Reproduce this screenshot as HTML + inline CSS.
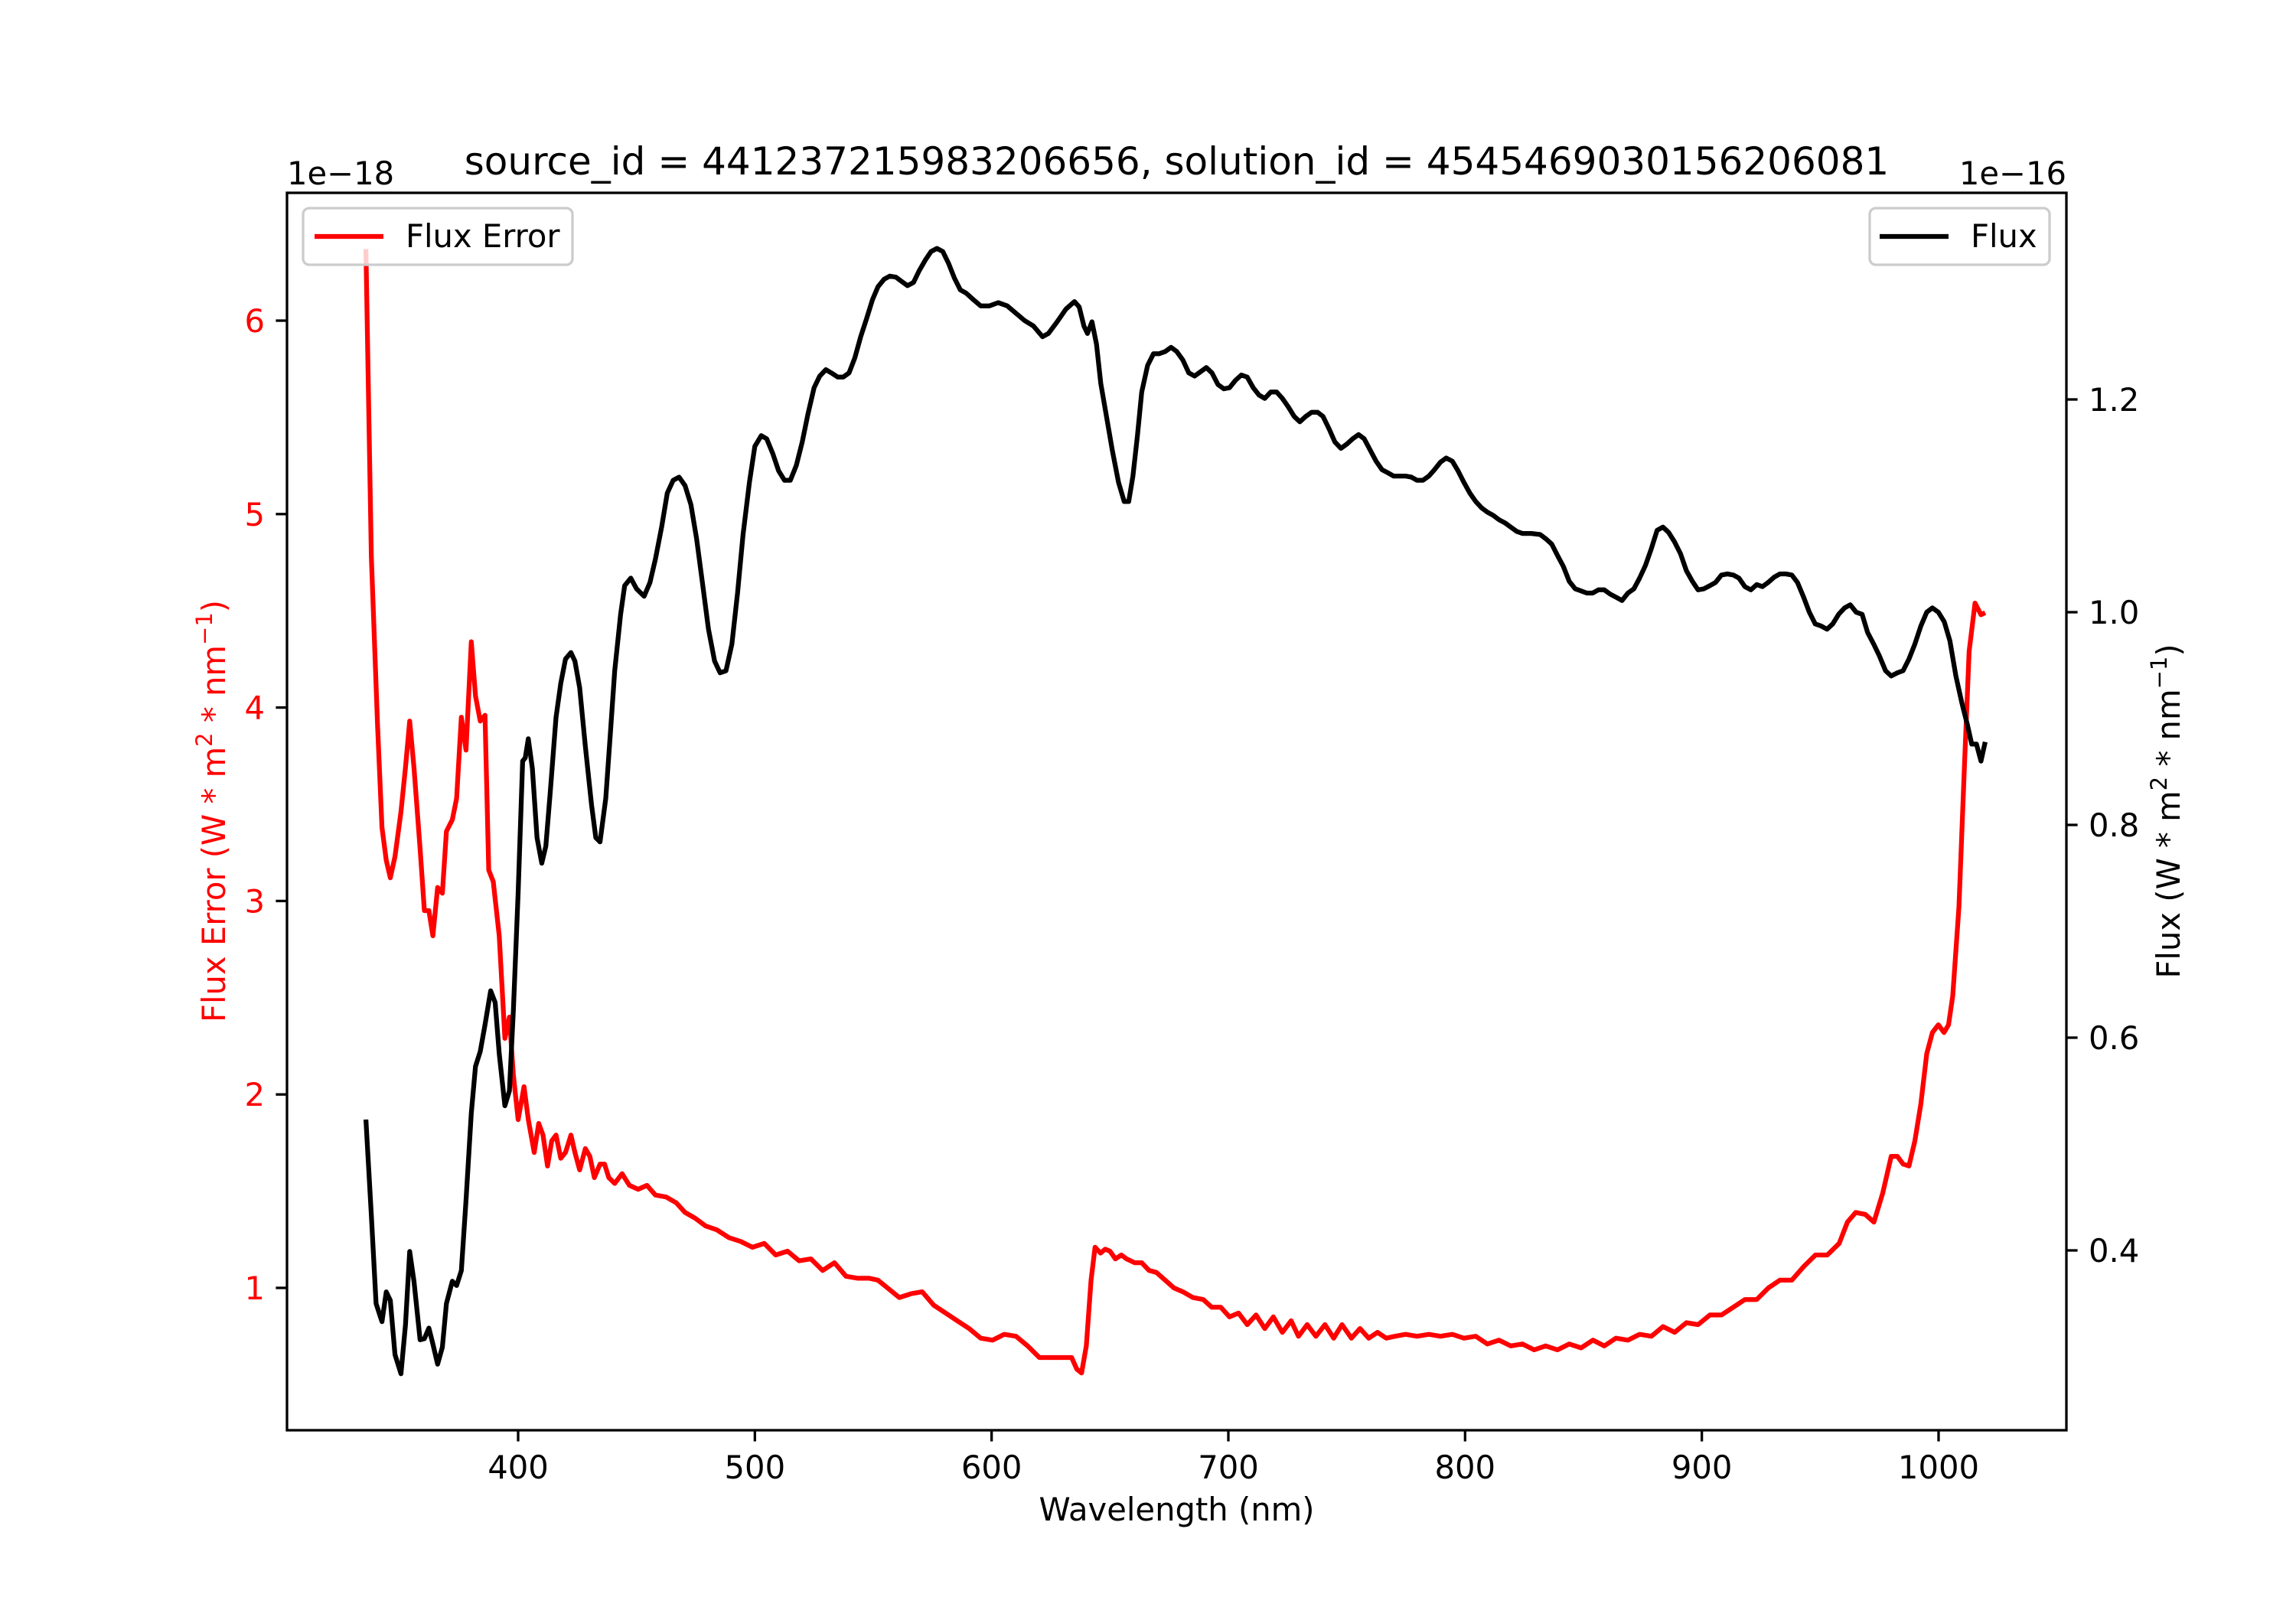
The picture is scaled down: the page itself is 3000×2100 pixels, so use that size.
<!DOCTYPE html>
<html><head><meta charset="utf-8"><style>
html,body{margin:0;padding:0;background:#fff;}
svg{display:block;font-family:"DejaVu Sans","Liberation Sans",sans-serif;}
</style></head><body>
<svg id="chart" width="3000" height="2100" viewBox="0 0 3000 2100" xmlns="http://www.w3.org/2000/svg">
<rect width="3000" height="2100" fill="#fff"/>
<text x="1537.5" y="228" font-size="50" text-anchor="middle">source_id = 441237215983206656, solution_id = 4545469030156206081</text>
<text x="375" y="241" font-size="41.7">1e−18</text>
<text x="2700" y="241" font-size="41.7" text-anchor="end">1e−16</text>
<g id="series"></g>
<g id="axes"></g>
<rect x="375" y="252" width="2325" height="1617" fill="none" stroke="#000" stroke-width="3.3"/>
<text x="1537.5" y="1987" font-size="41.7" text-anchor="middle">Wavelength (nm)</text>
<text transform="translate(294,1060) rotate(-90)" font-size="41.7" text-anchor="middle" fill="#ff0000">Flux Error (W * m<tspan baseline-shift="super" font-size="29">2</tspan> * nm<tspan baseline-shift="super" font-size="29">−1</tspan>)</text>
<text transform="translate(2848,1060) rotate(-90)" font-size="41.7" text-anchor="middle">Flux (W * m<tspan baseline-shift="super" font-size="29">2</tspan> * nm<tspan baseline-shift="super" font-size="29">−1</tspan>)</text>
<g>
<rect x="396" y="272" width="352" height="74" rx="8" fill="#fff" fill-opacity="0.8" stroke="#cccccc" stroke-width="3.3"/>
<line x1="411" y1="309" x2="501" y2="309" stroke="#ff0000" stroke-width="6.25"/>
<text x="530" y="323" font-size="41.7">Flux Error</text>
</g>
<g>
<rect x="2443" y="272" width="235" height="74" rx="8" fill="#fff" fill-opacity="0.8" stroke="#cccccc" stroke-width="3.3"/>
<line x1="2456" y1="309" x2="2546" y2="309" stroke="#000" stroke-width="6.25"/>
<text x="2575" y="323" font-size="41.7">Flux</text>
</g>
</svg>
<script>
const xTicks = [400,500,600,700,800,900,1000];
const leftTicks = [1,2,3,4,5,6];
const rightTicks = [0.4,0.6,0.8,1.0,1.2];
const rightTickLabels = ["0.4","0.6","0.8","1.0","1.2"];
const errWl = [335.7,338,340.6,342.5,344.3,346,348,350.5,352.4,354.2,356,358.6,360.4,362.3,364,366,368,369.7,372.2,374,376,378,380.2,382,384,386,387.6,389.5,392,394.4,396.3,398,400,402.5,404.3,406.8,408.7,410.5,412.4,414.2,416,418,420,422.3,424,426,428.4,430.3,432.2,434.6,436.5,438.3,440.8,443.9,447,450.7,454.4,458,462.5,466.8,470.5,474.8,479.2,484,489,494,499,504,508.8,513.8,518.7,523.7,528.6,533.6,538.5,543.5,548.4,552,556,561,566,570.7,575.6,580.6,585.5,590.5,595.4,600.4,605.3,610.3,615.2,620.2,625,630,633.8,636,638,640,642,643.7,646,648,650,652.3,654.8,657,660.4,663.4,666.5,669.6,673.3,677,680.8,685,689.4,693,696.8,700.5,704.3,708,711.7,715.4,719,722.8,726.5,729.6,733.3,737,740.8,744.5,748,752,755.6,759.3,763,766.7,770.4,774.8,779.7,784.7,789.6,794.6,799.5,804.5,809.4,814.3,819.3,824.2,829.2,834,839,844,849,854,858.8,863.7,868.8,873.7,878.7,883.6,888.5,893.5,898.4,903.4,908.3,913.3,918.2,923.2,928.1,933,938,943,948,953,958,961.5,965,969,972.7,976.4,980,982.6,985,987.5,990,992.5,995,997.4,999.9,1002.3,1004.2,1006,1008.6,1011,1012.9,1015.4,1017.9,1019.7];
const errVal = [6.37,4.78,3.91,3.38,3.21,3.12,3.23,3.46,3.69,3.93,3.69,3.27,2.95,2.95,2.82,3.07,3.04,3.36,3.42,3.53,3.95,3.78,4.34,4.06,3.93,3.96,3.16,3.10,2.82,2.29,2.40,2.10,1.87,2.04,1.87,1.70,1.85,1.79,1.63,1.76,1.79,1.67,1.70,1.79,1.70,1.61,1.72,1.68,1.57,1.64,1.64,1.57,1.54,1.59,1.53,1.51,1.53,1.48,1.47,1.44,1.39,1.36,1.32,1.30,1.26,1.24,1.21,1.23,1.17,1.19,1.14,1.15,1.09,1.13,1.06,1.05,1.05,1.04,1.00,0.95,0.97,0.98,0.91,0.87,0.83,0.79,0.74,0.73,0.76,0.75,0.70,0.64,0.64,0.64,0.64,0.58,0.56,0.70,1.04,1.21,1.18,1.20,1.19,1.15,1.17,1.15,1.13,1.13,1.09,1.08,1.04,1.00,0.98,0.95,0.94,0.90,0.90,0.85,0.87,0.81,0.86,0.79,0.85,0.77,0.83,0.75,0.81,0.75,0.81,0.74,0.81,0.74,0.79,0.74,0.77,0.74,0.75,0.76,0.75,0.76,0.75,0.76,0.74,0.75,0.71,0.73,0.70,0.71,0.68,0.70,0.68,0.71,0.69,0.73,0.70,0.74,0.73,0.76,0.75,0.80,0.77,0.82,0.81,0.86,0.86,0.90,0.94,0.94,1.00,1.04,1.04,1.11,1.17,1.17,1.23,1.34,1.39,1.38,1.34,1.49,1.68,1.68,1.64,1.63,1.76,1.95,2.21,2.32,2.36,2.32,2.36,2.51,2.97,3.72,4.29,4.54,4.48,4.49];
const fluxWl = [335.7,338,340,342.5,344.3,346,348,350.5,352.4,354.2,356,358.6,360.4,362.3,364,366,368,369.7,372.2,374,376,378,380.2,382,384,386,388.4,390.3,392,394.4,396.3,398,400,401.9,403,404.3,406,408,410,411.7,413.6,416,418,420,422.3,424,426,428.4,431,432.8,434.6,437,439,440.8,443.3,445,447.6,450,453.2,455.7,458,460.6,463,465.5,468,470.5,473,475.4,478,480.4,483,485.3,487.8,490.3,492.7,495,497.7,500,502.7,505,507.6,510,512.5,515,517.5,520,522.4,525,527.4,530,532.3,535,537.3,539.8,542.2,544.7,547.2,549.7,552,554.6,557,559.6,562,564.5,567,569.4,572,574.4,576.9,579.4,581.8,584.3,586.8,589.2,591.7,595.4,599.1,602.8,606.6,610.3,614,617.7,621.5,624,627.7,631.4,635,637,639,640.5,642.4,644.3,646.1,648.6,651,653.6,656,657.9,659.7,661.6,663.4,665.9,668.4,670.8,673.3,675.8,678.2,680.8,683.3,685.7,688.2,690.7,693.1,695.6,698.1,700.5,703,705.5,708,710.5,713,715.4,717.9,720.4,722.8,725.3,727.8,730.2,732.7,735.2,737.7,740,742.6,745,747.6,750,752.5,755,757.4,760,762.4,764.9,767.4,769.8,772.3,774.8,777.3,779.7,782.2,784.7,787.1,789.6,792,794.6,797,799.5,802,804.5,807,809.4,811.9,814.3,816.8,819.3,821.8,824.2,828,831.7,834.1,836.6,839.1,841.5,844,846.5,849,851.4,853.9,856.3,858.8,861.3,863.8,866.3,868.8,871.3,873.7,876.2,878.7,881.1,883.6,886,888.5,891,893.5,896,898.4,900.9,903.4,905.8,908.3,910.8,913.3,915.7,918.2,920.7,923.2,925.6,928,930.6,933,935.5,938,940.4,943,945.4,947.9,950.4,952.9,955.3,957.8,960.3,962.7,965.2,967.7,970,972.6,975,977.6,980,982.6,985,987.5,990,992.5,995,997.4,999.9,1002.4,1004.8,1007.3,1009.8,1012.2,1014,1016,1017.9,1019.7];
const fluxVal = [0.523,0.433,0.350,0.333,0.361,0.353,0.302,0.284,0.330,0.399,0.371,0.316,0.317,0.327,0.312,0.293,0.309,0.350,0.371,0.367,0.381,0.447,0.529,0.573,0.587,0.612,0.644,0.633,0.585,0.536,0.550,0.626,0.736,0.860,0.863,0.881,0.853,0.788,0.764,0.780,0.832,0.901,0.933,0.956,0.962,0.954,0.929,0.874,0.819,0.788,0.784,0.825,0.887,0.945,0.998,1.025,1.032,1.022,1.015,1.028,1.050,1.080,1.112,1.124,1.127,1.119,1.101,1.069,1.025,0.984,0.954,0.943,0.945,0.970,1.018,1.073,1.122,1.156,1.166,1.163,1.149,1.133,1.124,1.124,1.138,1.160,1.186,1.211,1.222,1.228,1.225,1.221,1.221,1.225,1.239,1.259,1.276,1.294,1.306,1.313,1.316,1.315,1.311,1.307,1.310,1.321,1.331,1.339,1.342,1.339,1.328,1.314,1.303,1.300,1.295,1.288,1.288,1.291,1.288,1.281,1.274,1.269,1.259,1.262,1.273,1.285,1.292,1.287,1.269,1.262,1.273,1.252,1.215,1.183,1.152,1.122,1.104,1.104,1.128,1.166,1.207,1.232,1.243,1.243,1.245,1.249,1.245,1.237,1.225,1.222,1.226,1.230,1.225,1.214,1.210,1.211,1.218,1.223,1.221,1.211,1.204,1.201,1.207,1.207,1.201,1.193,1.184,1.179,1.184,1.188,1.188,1.184,1.172,1.160,1.154,1.158,1.163,1.167,1.163,1.152,1.142,1.134,1.131,1.128,1.128,1.128,1.127,1.124,1.124,1.128,1.134,1.141,1.145,1.142,1.133,1.122,1.112,1.104,1.098,1.094,1.091,1.087,1.084,1.080,1.076,1.074,1.074,1.073,1.069,1.064,1.053,1.043,1.029,1.022,1.020,1.018,1.018,1.021,1.021,1.017,1.014,1.011,1.018,1.022,1.032,1.044,1.060,1.077,1.080,1.075,1.066,1.055,1.039,1.029,1.021,1.022,1.025,1.028,1.035,1.036,1.035,1.032,1.024,1.021,1.026,1.024,1.028,1.033,1.036,1.036,1.035,1.028,1.014,1.000,0.989,0.987,0.984,0.989,0.998,1.004,1.007,1.000,0.998,0.981,0.970,0.959,0.945,0.940,0.943,0.945,0.956,0.970,0.987,1.000,1.004,1.000,0.991,0.973,0.940,0.915,0.894,0.876,0.876,0.860,0.878];

const NS = "http://www.w3.org/2000/svg";
const X0 = 375, X1 = 2700, Y0 = 252, Y1 = 1869;
function xs(w){ return 677 + (w - 400) * 3.0933; }
function yl(v){ return 1683 - (v - 1) * 252.8; }
function yr(v){ return 1634 - (v - 0.4) * 1390; }
function mk(tag, attrs){ const e = document.createElementNS(NS, tag); for (const k in attrs) e.setAttribute(k, attrs[k]); return e; }

const axes = document.getElementById('axes');
xTicks.forEach(t => {
  const x = xs(t);
  const l = mk('line', {x1:x, y1:Y1, x2:x, y2:Y1+14.6, stroke:'#000', 'stroke-width':3.3});
  
  
  axes.appendChild(l);
  const tx = mk('text', {x:x, y:1932, 'font-size':41.7, 'text-anchor':'middle'});
  
  
  tx.textContent = String(t);
  axes.appendChild(tx);
});
leftTicks.forEach(t => {
  const y = yl(t);
  const l = mk('line', {x1:X0-14.6, y1:y, x2:X0, y2:y, stroke:'#000', 'stroke-width':3.3});
  
  
  axes.appendChild(l);
  const tx = mk('text', {x:346, y:y+15, 'font-size':41.7, 'text-anchor':'end', fill:'#ff0000'});
  
  
  tx.textContent = String(t);
  axes.appendChild(tx);
});
rightTicks.forEach((t, i) => {
  const y = yr(t);
  const l = mk('line', {x1:X1, y1:y, x2:X1+14.6, y2:y, stroke:'#000', 'stroke-width':3.3});
  
  
  axes.appendChild(l);
  const tx = mk('text', {x:2729, y:y+15, 'font-size':41.7});
  
  
  tx.textContent = rightTickLabels[i];
  axes.appendChild(tx);
});

const series = document.getElementById('series');
function line(wl, vals, yf, color, name){
  const d = wl.map((w, i) => (i ? 'L' : 'M') + xs(w).toFixed(1) + ',' + yf(vals[i]).toFixed(1)).join(' ');
  const p = mk('path', {d:d, fill:'none', stroke:color, 'stroke-width':6.25, 'stroke-linejoin':'round'});
  
  
  series.appendChild(p);
}
line(errWl, errVal, yl, '#ff0000', 'flux-error-line');
line(fluxWl, fluxVal, yr, '#000000', 'flux-line');
</script>
</body></html>
